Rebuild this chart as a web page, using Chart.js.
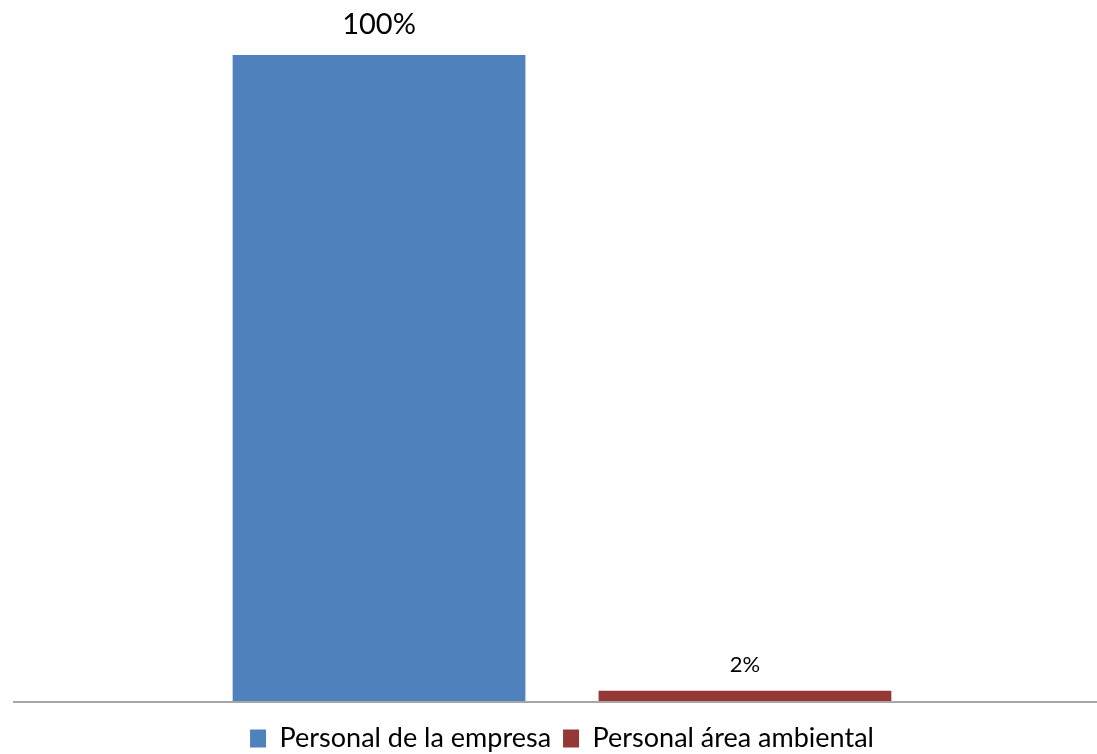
<!DOCTYPE html>
<html>
<head>
<meta charset="utf-8">
<script src="https://cdn.jsdelivr.net/npm/chart.js@4"></script>
<style>
  html, body { margin: 0; padding: 0; background: #fff; overflow: hidden; }
  /* un peu plus haut que la fenêtre : la marge basse de la légende tombe hors champ */
  #wrap { width: 1097px; height: 762px; }
</style>
</head>
<body>
<div id="wrap"><canvas id="chart"></canvas></div>
<script>
// données
const categories = [''];
const seriesNames = ['Personal de la empresa', 'Personal área ambiental'];
const seriesValues = [[100], [1.6]];
const seriesColors = ['#4F81BD', '#953735'];
const yMin = 0, yMax = 100;

// étiquettes de valeur au-dessus des barres
const valueLabels = {
    id: 'valueLabels',
    afterDatasetsDraw(chart) {
        const ctx = chart.ctx;
        ctx.save();
        ctx.fillStyle = '#000';
        ctx.textAlign = 'center';
        ctx.textBaseline = 'middle';
        chart.data.datasets.forEach((ds, i) => {
            const meta = chart.getDatasetMeta(i);
            const size = i === 0 ? 29 : 22;
            ctx.font = size + 'px Lato';
            meta.data.forEach((bar, j) => {
                ctx.fillText(Math.round(ds.data[j]) + '%', bar.x, bar.y - (i === 0 ? 30 : 26));
            });
        });
        ctx.restore();
    }
};

// ligne de base grise, comme l'axe d'Excel
const baseLine = {
    id: 'baseLine',
    afterDatasetsDraw(chart) {
        const ctx = chart.ctx;
        const y = chart.scales.y.getPixelForValue(0);
        ctx.save();
        ctx.strokeStyle = '#A6A6A6';
        ctx.lineWidth = 2;
        ctx.beginPath();
        ctx.moveTo(13, y + 1);
        ctx.lineTo(chart.width, y + 1);
        ctx.stroke();
        ctx.restore();
    }
};

new Chart(document.getElementById('chart'), {
    type: 'bar',
    data: {
        labels: categories,
        datasets: seriesNames.map((name, i) => ({
            label: name,
            data: seriesValues[i],
            backgroundColor: seriesColors[i],
            borderWidth: 0,
            barPercentage: 0.8,
            categoryPercentage: 0.684
        }))
    },
    options: {
        responsive: true,
        maintainAspectRatio: false,
        animation: false,
        layout: { padding: { left: 27, right: 0, top: 55, bottom: 0 } },
        scales: {
            x: {
                display: true,
                grid: { display: false },
                border: { display: false },
                ticks: { display: false },
                afterFit(scale) { scale.height = 12; }
            },
            y: { display: false, min: yMin, max: yMax }
        },
        plugins: {
            legend: {
                position: 'bottom',
                labels: {
                    color: '#000',
                    font: { family: 'Lato', size: 27 },
                    boxWidth: 16,
                    boxHeight: 18,
                    padding: 12
                }
            },
            tooltip: { enabled: false }
        }
    },
    plugins: [valueLabels, baseLine]
});
</script>
</body>
</html>
